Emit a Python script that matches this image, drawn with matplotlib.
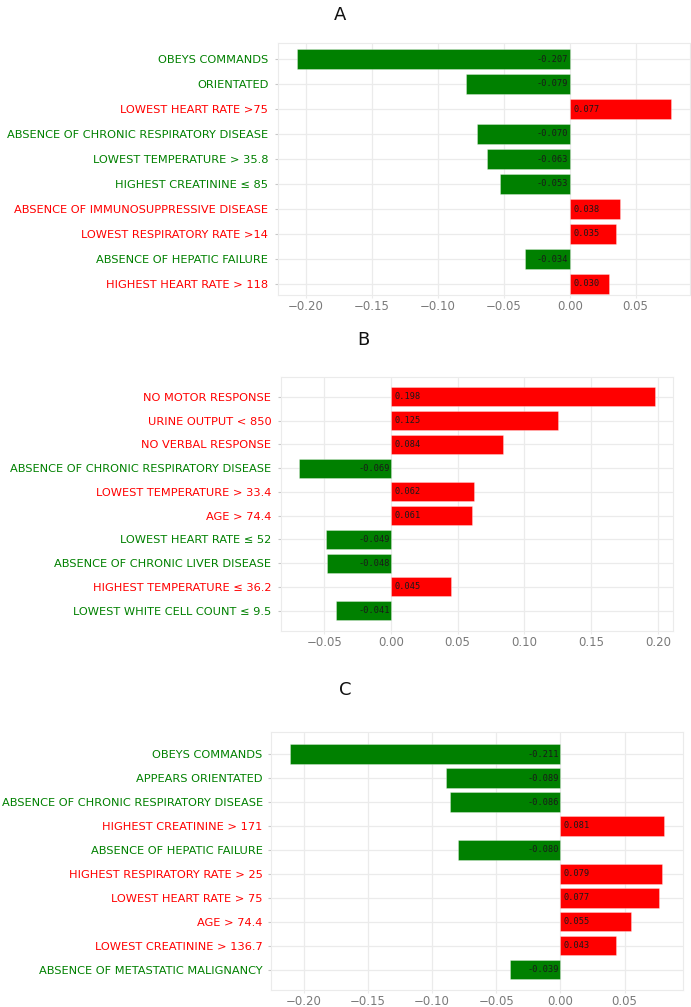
import matplotlib.pyplot as plt

# Panel A
labels_a = [
    "OBEYS COMMANDS",
    "ORIENTATED",
    "LOWEST HEART RATE >75",
    "ABSENCE OF CHRONIC RESPIRATORY DISEASE",
    "LOWEST TEMPERATURE > 35.8",
    "HIGHEST CREATININE ≤ 85",
    "ABSENCE OF IMMUNOSUPPRESSIVE DISEASE",
    "LOWEST RESPIRATORY RATE >14",
    "ABSENCE OF HEPATIC FAILURE",
    "HIGHEST HEART RATE > 118",
]
values_a = [-0.207, -0.079, 0.077, -0.070, -0.063, -0.053, 0.038, 0.035, -0.034, 0.030]

# Panel B
labels_b = [
    "NO MOTOR RESPONSE",
    "URINE OUTPUT < 850",
    "NO VERBAL RESPONSE",
    "ABSENCE OF CHRONIC RESPIRATORY DISEASE",
    "LOWEST TEMPERATURE > 33.4",
    "AGE > 74.4",
    "LOWEST HEART RATE ≤ 52",
    "ABSENCE OF CHRONIC LIVER DISEASE",
    "HIGHEST TEMPERATURE ≤ 36.2",
    "LOWEST WHITE CELL COUNT ≤ 9.5",
]
values_b = [0.198, 0.125, 0.084, -0.069, 0.062, 0.061, -0.049, -0.048, 0.045, -0.041]

# Panel C
labels_c = [
    "OBEYS COMMANDS",
    "APPEARS ORIENTATED",
    "ABSENCE OF CHRONIC RESPIRATORY DISEASE",
    "HIGHEST CREATININE > 171",
    "ABSENCE OF HEPATIC FAILURE",
    "HIGHEST RESPIRATORY RATE > 25",
    "LOWEST HEART RATE > 75",
    "AGE > 74.4",
    "LOWEST CREATININE > 136.7",
    "ABSENCE OF METASTATIC MALIGNANCY",
]
values_c = [-0.211, -0.089, -0.086, 0.081, -0.080, 0.079, 0.077, 0.055, 0.043, -0.039]

xticks_a = [-0.20, -0.15, -0.10, -0.05, 0.00, 0.05]
xticks_b = [-0.05, 0.00, 0.05, 0.10, 0.15, 0.20]
xticks_c = [-0.20, -0.15, -0.10, -0.05, 0.00, 0.05]

W, H = 691, 1007
POS_COLOR = "#ff0000"
NEG_COLOR = "#008000"
GRID = "#ebebeb"

fig = plt.figure(figsize=(W / 100, H / 100), dpi=100)


def px_rect(left, right, top, bottom):
    return [left / W, 1 - bottom / H, (right - left) / W, (bottom - top) / H]


def panel(rect, labels, values, xticks, pad_top, pad_bottom, ypad=4.5):
    ax = fig.add_axes(rect)
    y = list(range(len(labels)))
    colors = [POS_COLOR if v > 0 else NEG_COLOR for v in values]
    ax.barh(y, values, height=0.8, color=colors,
            edgecolor=(1, 1, 1, 0.35), linewidth=0.6, zorder=2)

    for yi, v in zip(y, values):
        if v < 0:
            ax.annotate(f"{v:.3f}", (0, yi), xytext=(-1, 0), textcoords="offset points",
                        ha="right", va="center", fontsize=6.2,
                        family="DejaVu Sans Mono", color="#1a1a1a", zorder=3)
        else:
            ax.annotate(f"{v:.3f}", (0, yi), xytext=(2.5, 0), textcoords="offset points",
                        ha="left", va="center", fontsize=6.2,
                        family="DejaVu Sans Mono", color="#1a1a1a", zorder=3)

    ax.set_yticks(y)
    ax.set_yticklabels(labels, fontsize=8.2)
    for lab, v in zip(ax.get_yticklabels(), values):
        lab.set_color(POS_COLOR if v > 0 else NEG_COLOR)
    ax.set_ylim(len(labels) - 1 + pad_bottom, -pad_top)

    ax.margins(x=0.05)
    ax.set_xticks(xticks)
    ax.set_xticklabels([f"{t:.2f}".replace("-", "\u2212") for t in xticks],
                       fontsize=8.5, color="#7a7a7a")

    ax.tick_params(axis="y", length=2.5, width=0.8, color="#c8c8c8", pad=ypad)
    ax.tick_params(axis="x", length=2, width=0.8, color=GRID, pad=1.5)
    ax.grid(True, color=GRID, linewidth=0.9, zorder=0)
    ax.set_axisbelow(True)
    for sp in ax.spines.values():
        sp.set_color(GRID)
        sp.set_linewidth(0.8)
    return ax


panel(px_rect(278, 690, 43, 295), labels_a, values_a, xticks_a, 0.64, 0.44)
panel(px_rect(281, 673, 377, 631), labels_b, values_b, xticks_b, 0.84, 0.86)
panel(px_rect(271, 683, 732, 990), labels_c, values_c, xticks_c, 0.92, 0.84, ypad=3.5)

fig.text(340 / W, 1 - 15 / H, "A", ha="center", va="center", fontsize=13, color="#111111")
fig.text(363 / W, 1 - 340 / H, "B", ha="center", va="center", fontsize=13, color="#111111")
fig.text(345 / W, 1 - 690 / H, "C", ha="center", va="center", fontsize=13, color="#111111")

fig.savefig("out.png", dpi=100)
